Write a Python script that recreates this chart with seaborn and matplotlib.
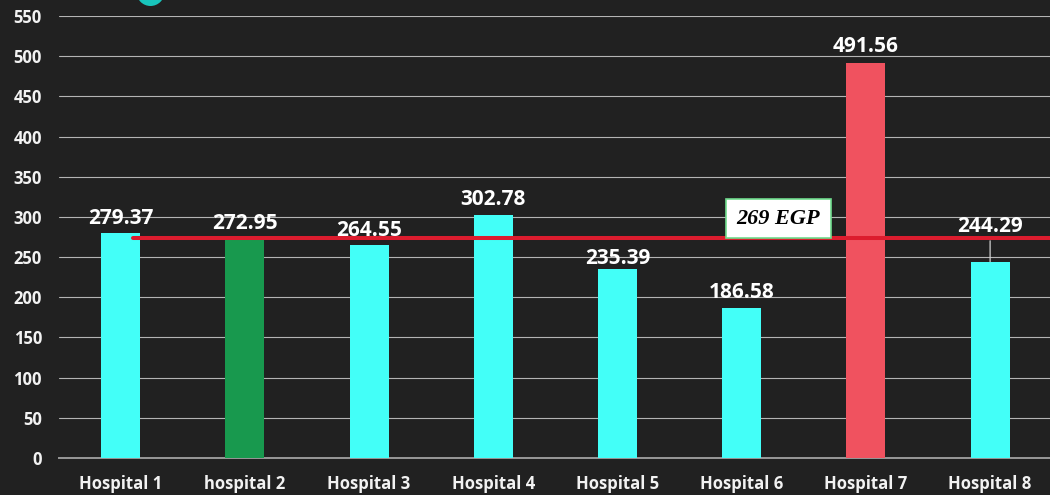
import matplotlib
matplotlib.use('Agg')
import matplotlib.pyplot as plt
from matplotlib.patches import Circle, Rectangle
from matplotlib.transforms import IdentityTransform
import pandas as pd
import seaborn as sns

hospitals = ['Hospital 1', 'hospital 2', 'Hospital 3', 'Hospital 4',
             'Hospital 5', 'Hospital 6', 'Hospital 7', 'Hospital 8']
costs = [279.37, 272.95, 264.55, 302.78, 235.39, 186.58, 491.56, 244.29]
bar_colors = ['#43fff8', '#18994e', '#43fff8', '#43fff8',
              '#43fff8', '#43fff8', '#f0525f', '#43fff8']
y_ticks = list(range(0, 551, 50))
# the red line sits a bit above its own 269 label in the picture
average_line = 274
average_label = '269 EGP'

BG = '#212121'

sns.set_theme(style='dark')
plt.rcParams['font.family'] = ['Open Sans', 'DejaVu Sans']

df = pd.DataFrame({'hospital': hospitals, 'cost': costs})

fig = plt.figure(figsize=(10.5, 4.95), dpi=100, facecolor=BG)
# axes runs slightly past the right edge of the image, same as the original
ax = fig.add_axes([58.6 / 1050, (495 - 458) / 495, 993.6 / 1050, 442 / 495])
ax.set_facecolor(BG)

sns.barplot(data=df, x='hospital', y='cost', hue='hospital',
            palette=bar_colors, legend=False, width=0.315, saturation=1,
            linewidth=0, ax=ax, zorder=3)

ax.set_xlim(-0.5, 7.5)
ax.set_ylim(0, 550)
ax.set_yticks(y_ticks)
ax.set_xlabel('')
ax.set_ylabel('')
ax.grid(axis='y', color='#b4b4b4', lw=0.8, zorder=1)
ax.grid(axis='x', visible=False)
ax.tick_params(axis='both', length=0, colors='white')
ax.tick_params(axis='y', pad=12, labelsize=12)
ax.tick_params(axis='x', pad=12, labelsize=12)
for lab in ax.get_xticklabels() + ax.get_yticklabels():
    lab.set_fontweight('bold')
    lab.set_color('#f2f2f2')
for name, spine in ax.spines.items():
    spine.set_visible(name == 'bottom')
ax.spines['bottom'].set_color('#999999')
ax.spines['bottom'].set_linewidth(1.4)

# value labels were moved by hand in the source chart, so offsets differ
label_offsets = [3, 3, 3, 3.5, 0, 3.5, 4.5, 17.5]
for i, (val, off) in enumerate(zip(costs, label_offsets)):
    ax.annotate(f'{val:.2f}', (i, val), xytext=(0, off), textcoords='offset points',
                ha='center', va='bottom', color='white', fontsize=15,
                fontweight='bold', zorder=7)

# leader line for hospital 8
ax.annotate('', (7, costs[7]), xytext=(7, costs[7] + 26),
            arrowprops=dict(arrowstyle='-', color='#d0d0d0', lw=0.9, shrinkA=0, shrinkB=0),
            zorder=4)

ax.plot([0.1, 7.5], [average_line, average_line], color='#dc1c2e', lw=2.9,
        solid_capstyle='round', zorder=5)

ax.add_patch(Rectangle((4.87, 274), 0.85, 48, facecolor='white',
                       edgecolor='#6fdc8c', lw=1.2, zorder=6))
ax.text(5.29, 298, average_label, ha='center', va='center', color='black',
        fontsize=16, fontweight='bold', fontstyle='italic',
        family=['Liberation Serif', 'DejaVu Serif'], zorder=7)

# bit of a teal shape cut off by the top of the image
fig.add_artist(Circle((150.5, 495 + 8), 14, transform=IdentityTransform(),
                      facecolor='#18c4bb', edgecolor='none'))

fig.savefig('out.png', dpi=100, facecolor=BG)
